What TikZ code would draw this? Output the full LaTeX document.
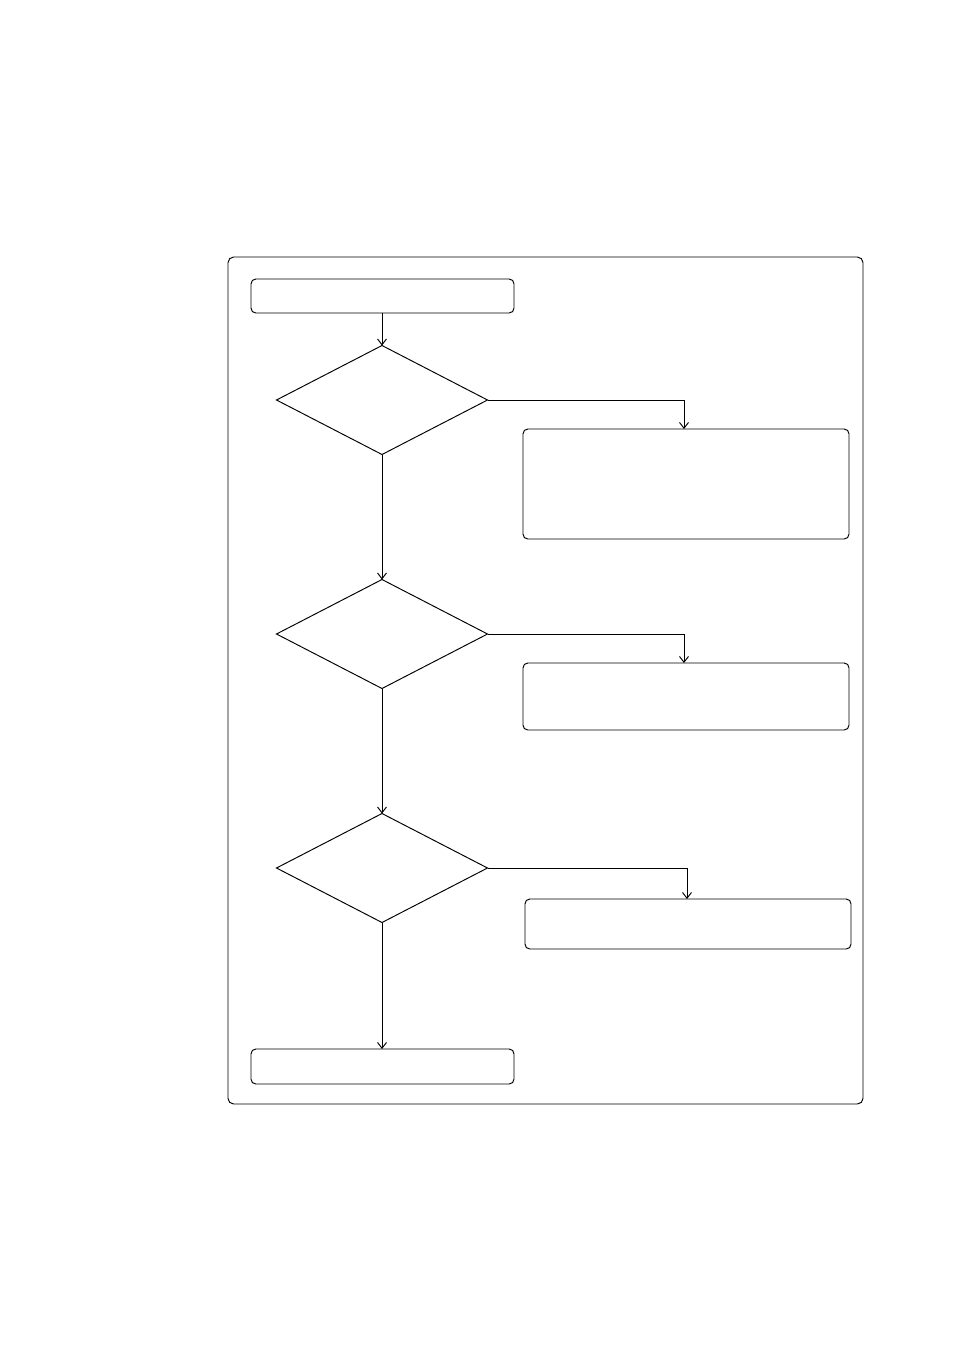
\documentclass[tikz,border=0pt]{standalone}
\usetikzlibrary{shapes,arrows}
\usetikzlibrary{arrows.meta}
\usetikzlibrary{calc,positioning}

\begin{document}
\begin{tikzpicture}[x=0.6238pt, y=-0.6238pt]
    \tikzstyle{line} = [draw, line width=0.6pt, -{Straight Barb[length=3.6pt,width=5.6pt]}]
    \tikzstyle{block} = [draw, rounded corners=3pt, line width=0.6pt, outer sep=0pt, inner sep=0pt]
    \tikzstyle{decision} = [draw, diamond, line width=0.6pt, outer sep=0pt, inner sep=0pt]

    \def\px{0.6238pt}
    \def\blockWidth{263*\px}
    \def\noteWidth{326*\px}
    \def\decWidth{211*\px}
    \def\decHeight{109*\px}

    \useasboundingbox (0,0) rectangle (954,1351);

    % outer frame
    \draw[line width=0.6pt, rounded corners=3.5pt] (228,257) rectangle (863,1104);

    \node[block] (start) [minimum width=\blockWidth, minimum height=34*\px] at (382.5,296) {};

    \node[decision] (D1) [minimum width=\decWidth, minimum height=\decHeight] at (382,400) {};
    \node[block] (N1) [minimum width=\noteWidth, minimum height=110*\px] at (686,484) {};

    \node[decision] (D2) [minimum width=\decWidth, minimum height=\decHeight] at (382,634) {};
    \node[block] (N2) [minimum width=\noteWidth, minimum height=67*\px] at (686,696.5) {};

    \node[decision] (D3) [minimum width=\decWidth, minimum height=\decHeight] at (382,868) {};
    \node[block] (N3) [minimum width=\noteWidth, minimum height=50*\px] at (688,924) {};

    \node[block] (stop) [minimum width=\blockWidth, minimum height=35*\px] at (382.5,1066.5) {};

    \path [line] (start.south -| D1.north) -- (D1.north);
    \path [line] (D1.south) -- (D2.north);
    \path [line] (D2.south) -- (D3.north);
    \path [line] (D3.south) -- (stop.north -| D3.south);

    \path [line] (D1.east) -| ($(N1.north)+(-2,0)$);
    \path [line] (D2.east) -| ($(N2.north)+(-2,0)$);
    \path [line] (D3.east) -| ($(N3.north)+(-1,0)$);
\end{tikzpicture}
\end{document}
